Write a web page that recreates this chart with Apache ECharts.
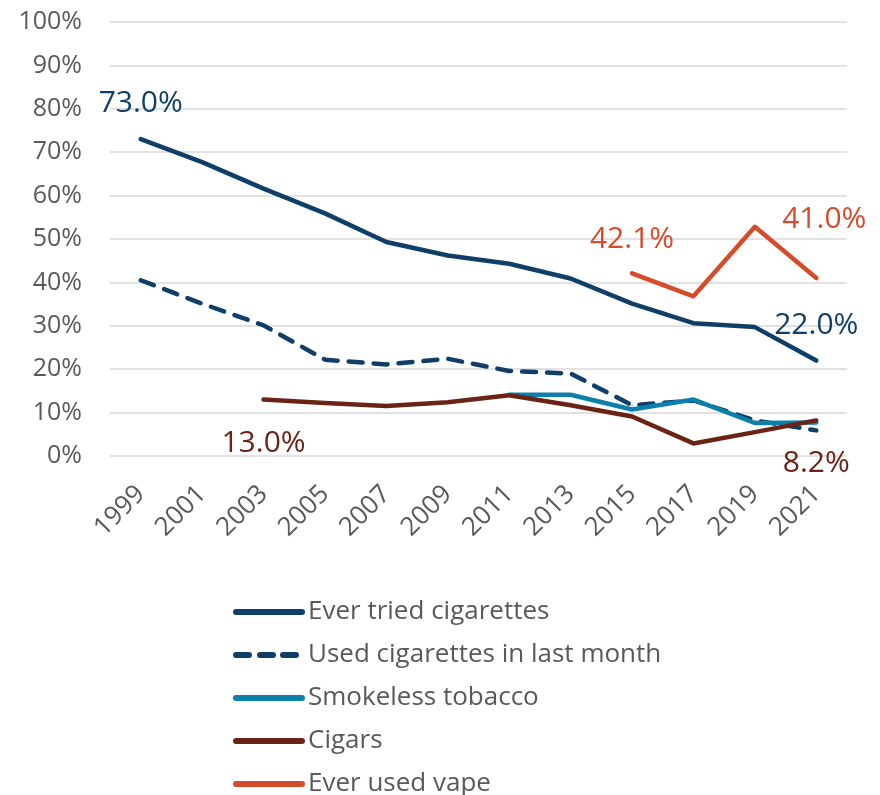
<!DOCTYPE html>
<html><head><meta charset="utf-8">
<script src="https://cdn.jsdelivr.net/npm/echarts@6/dist/echarts.min.js"></script>
<style>html,body{margin:0;padding:0;background:#fff}#c{width:880px;height:795px}</style>
</head><body><div id="c"></div>
<script>
const years = ['1999','2001','2003','2005','2007','2009','2011','2013','2015','2017','2019','2021'];
const everTried = [73.0, 67.7, 61.6, 55.9, 49.3, 46.2, 44.3, 40.9, 35.1, 30.6, 29.7, 22.0];
const lastMonth = [40.5, 35.1, 30.1, 22.2, 21.1, 22.4, 19.6, 19.0, 11.7, 12.8, 8.2, 5.9];
const smokeless = [null, null, null, null, null, null, 14.1, 14.1, 10.7, 13.0, 7.6, 7.7];
const cigars = [null, null, 13.0, 12.2, 11.5, 12.4, 14.0, 11.7, 9.1, 2.9, 5.5, 8.2];
const vape = [null, null, null, null, null, null, null, null, 42.1, 36.8, 52.8, 41.0];
const yTicks = [0,10,20,30,40,50,60,70,80,90,100];
const seriesNames = ['Ever tried cigarettes', 'Used cigarettes in last month', 'Smokeless tobacco', 'Cigars', 'Ever used vape'];

const FONT = '"Open Sans", "Noto Sans", sans-serif';
const C_BLUE = '#0f3f68', C_LBLUE = '#0b80ad', C_BROWN = '#6b2315', C_ORANGE = '#d64b29';
const SOLID_ICON = 'path://M3,0H69A3,3 0 0 1 69,6H3A3,3 0 0 1 3,0Z';
const DASH_ICON = 'path://M3,0H16A3,3 0 0 1 16,6H3A3,3 0 0 1 3,0Z M27,0H40A3,3 0 0 1 40,6H27A3,3 0 0 1 27,0Z M50,0H63A3,3 0 0 1 63,6H50A3,3 0 0 1 50,0Z M71.98,0H72V6H71.98Z';

function withLabels(arr, specs, color) {
  return arr.map((v, i) => {
    const s = specs[i];
    if (!s || v == null) return v;
    return { value: v, label: Object.assign({ show: true, color: color, fontSize: 30, fontFamily: FONT,
      formatter: (p) => p.value.toFixed(1) + '%' }, s) };
  });
}
function lineSeries(name, color, data, dashed) {
  return { name: name, type: 'line', showSymbol: true, symbol: 'circle', symbolSize: 1,
    lineStyle: Object.assign({ color: color, width: 4.5, cap: 'round', join: 'round' }, dashed ? { type: [14, 11] } : {}),
    itemStyle: { color: color }, label: { show: false }, data: data };
}

const chart = echarts.init(document.getElementById('c'), null, {renderer: 'canvas'});
chart.setOption({
  animation: false,
  textStyle: { fontFamily: FONT },
  grid: { left: 110, right: 33, top: 22, bottom: 339, containLabel: false },
  xAxis: {
    type: 'category', data: years, boundaryGap: true,
    axisLine: { show: false }, axisTick: { show: false },
    axisLabel: { rotate: 45, margin: 34, color: '#595959', fontSize: 26, fontFamily: FONT, interval: 0 }
  },
  yAxis: {
    type: 'value', min: 0, max: 100, interval: 10,
    axisLine: { show: false }, axisTick: { show: false },
    axisLabel: { color: '#595959', fontSize: 25, fontFamily: FONT, margin: 28,
      formatter: (v) => yTicks.includes(v) ? v + '%' : '' },
    splitLine: { lineStyle: { color: '#d9d9d9', width: 1.5 } }
  },
  legend: {
    orient: 'vertical', left: 228, top: 593, height: 230, itemWidth: 72, itemHeight: 6, itemGap: 15,
    textStyle: { color: '#595959', fontSize: 26, fontFamily: FONT, padding: [0,0,0,-2], lineHeight: 28 },
    data: seriesNames.map((n, i) => ({ name: n, icon: i === 1 ? DASH_ICON : SOLID_ICON }))
  },
  series: [
    lineSeries(seriesNames[0], C_BLUE, withLabels(everTried, { 0: { position: 'top', distance: 20 }, 11: { position: 'top', distance: 20 } }, C_BLUE)),
    lineSeries(seriesNames[1], C_BLUE, lastMonth, true),
    lineSeries(seriesNames[2], C_LBLUE, smokeless),
    lineSeries(seriesNames[3], C_BROWN, withLabels(cigars, { 2: { position: 'bottom', distance: 28 }, 11: { position: 'bottom', distance: 28 } }, C_BROWN)),
    lineSeries(seriesNames[4], C_ORANGE, withLabels(vape, { 8: { position: 'top', distance: 18 }, 11: { position: 'top', distance: 43, offset: [8, 0] } }, C_ORANGE))
  ]
});
</script></body></html>
